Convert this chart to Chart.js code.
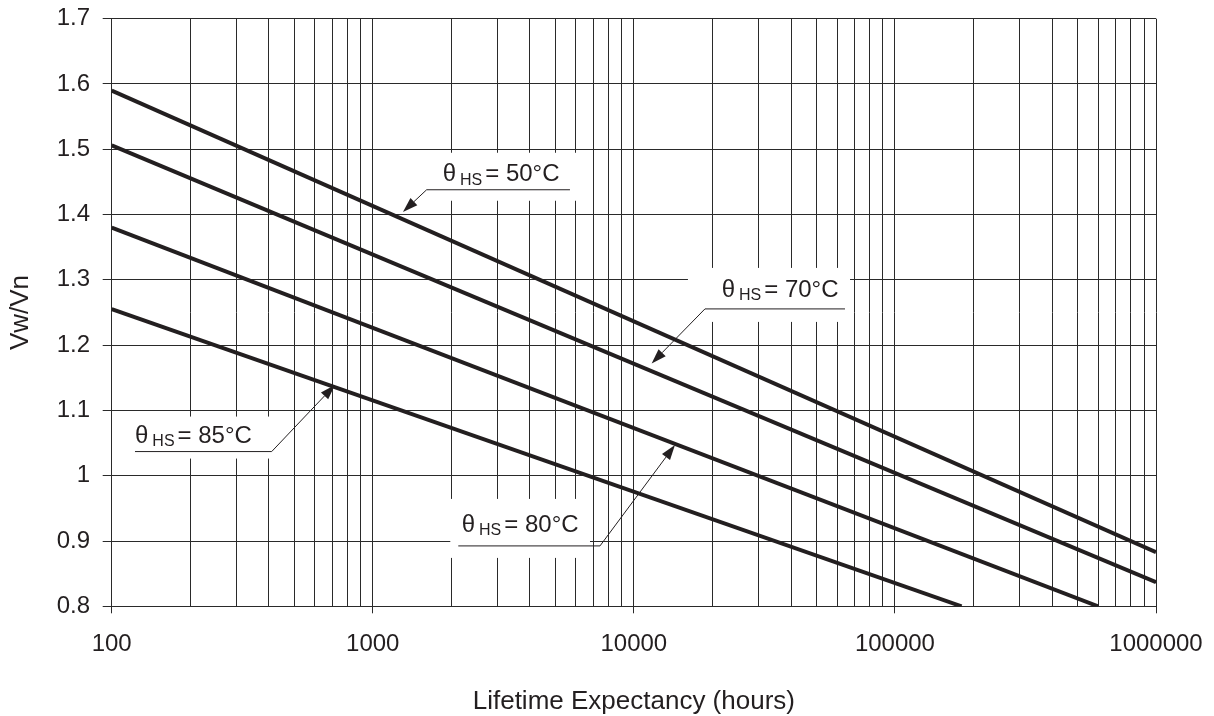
<!DOCTYPE html>
<html>
<head>
<meta charset="utf-8">
<script src="https://cdn.jsdelivr.net/npm/chart.js@4.4.1/dist/chart.umd.min.js"></script>
<style>
  html, body { margin: 0; padding: 0; background: #fff; }
  #wrap { width: 1214px; height: 716px; }
</style>
</head>
<body>
<div id="wrap"><canvas id="lifeChart" width="1214" height="716"></canvas></div>
<script>
// Axis ticks
const xTickLabels = ['100', '1000', '10000', '100000', '1000000'];
const xMinorSteps = [1, 2, 3, 4, 5, 6, 7, 8, 9];
const yTickValues = [0.8, 0.9, 1.0, 1.1, 1.2, 1.3, 1.4, 1.5, 1.6, 1.7];
const yTickLabels = ['0.8', '0.9', '1', '1.1', '1.2', '1.3', '1.4', '1.5', '1.6', '1.7'];

// Series (hours, Vw/Vn)
const hours50 = [100, 1000000];
const vw50 = [1.59, 0.883];
const hours70 = [100, 1000000];
const vw70 = [1.506, 0.837];
const hours80 = [100, 600000];
const vw80 = [1.38, 0.8];
const hours85 = [100, 180000];
const vw85 = [1.255, 0.8];

const INK = '#231f20';
const GRID = '#2a2a2a';
const FONT = "'Liberation Sans', Arial, Helvetica, sans-serif";

const majorValues = xTickLabels.map(Number);
const xGridValues = [];
majorValues.slice(0, -1).forEach(d => xMinorSteps.forEach(m => xGridValues.push(d * m)));
xGridValues.push(majorValues[majorValues.length - 1]);

function toPoints(xs, ys) {
    return xs.map((v, i) => ({ x: v, y: ys[i] }));
}

function lineSet(label, xs, ys) {
    return {
        label: label,
        data: toPoints(xs, ys),
        borderColor: INK,
        borderWidth: 4,
        borderCapStyle: 'butt',
        pointRadius: 0,
        tension: 0,
        fill: false
    };
}

// Callout labels: arrow tip and underline in data units, text/box offsets in px
const callouts = [
    { temp: '50°C', tip: [1305, 1.404], from: 1608, to: 5692, at: 1.438, elbow: 'left',  dx: 16,  dy: -8.3,  box: [-7, -37, 15, 11] },
    { temp: '70°C', tip: [11700, 1.172], from: 18720, to: 64380, at: 1.2555, elbow: 'left', dx: 16.7, dy: -12.3, box: [-17, -41, 5, 13] },
    { temp: '85°C', tip: [716, 1.139], from: 122.8, to: 410, at: 1.037, elbow: 'right', dx: 0,   dy: -9,    box: [-8, -35, 4, 7] },
    { temp: '80°C', tip: [14370, 1.047], from: 2126, to: 7418, at: 0.8925, elbow: 'right', dx: 3.4, dy: -14.3, box: [-8, -47, -10, 12] }
];

const calloutPlugin = {
    id: 'callouts',
    beforeDatasetsDraw(chart) {
        const { ctx, scales: { x, y } } = chart;
        ctx.save();
        ctx.fillStyle = '#ffffff';
        callouts.forEach(c => {
            const x0 = x.getPixelForValue(c.from);
            const x1 = x.getPixelForValue(c.to);
            const yl = y.getPixelForValue(c.at);
            ctx.fillRect(x0 + c.box[0], yl + c.box[1], (x1 + c.box[2]) - (x0 + c.box[0]), c.box[3] - c.box[1]);
        });
        ctx.restore();
    },
    afterDatasetsDraw(chart) {
        const { ctx, scales: { x, y } } = chart;
        ctx.save();
        ctx.strokeStyle = INK;
        ctx.fillStyle = INK;
        ctx.lineWidth = 1;
        callouts.forEach(c => {
            const x0 = x.getPixelForValue(c.from);
            const x1 = x.getPixelForValue(c.to);
            const yl = y.getPixelForValue(c.at);
            // underline
            ctx.beginPath();
            ctx.moveTo(x0, yl);
            ctx.lineTo(x1, yl);
            ctx.stroke();
            // arrow
            const ex = c.elbow === 'left' ? x0 : x1;
            const tx = x.getPixelForValue(c.tip[0]);
            const ty = y.getPixelForValue(c.tip[1]);
            const ang = Math.atan2(ty - yl, tx - ex);
            const len = 15, half = 5;
            const bx = tx - len * Math.cos(ang), by = ty - len * Math.sin(ang);
            ctx.beginPath();
            ctx.moveTo(ex, yl);
            ctx.lineTo(bx, by);
            ctx.stroke();
            ctx.beginPath();
            ctx.moveTo(tx, ty);
            ctx.lineTo(bx + half * Math.sin(ang), by - half * Math.cos(ang));
            ctx.lineTo(bx - half * Math.sin(ang), by + half * Math.cos(ang));
            ctx.closePath();
            ctx.fill();
            // text: θ HS = xx°C
            let tx0 = x0 + c.dx;
            const base = yl + c.dy;
            ctx.textBaseline = 'alphabetic';
            ctx.textAlign = 'left';
            ctx.font = '24px ' + FONT;
            ctx.fillText('θ', tx0, base);
            tx0 += ctx.measureText('θ').width + 4;
            ctx.font = '16px ' + FONT;
            ctx.fillText('HS', tx0, base + 3.5);
            tx0 += ctx.measureText('HS').width + 3;
            ctx.font = '24px ' + FONT;
            ctx.fillText('= ' + c.temp, tx0, base);
        });
        ctx.restore();
    }
};

function initLifeChart() {
    const ctx = document.getElementById('lifeChart').getContext('2d');
    const lifeChart = new Chart(ctx, {
        type: 'line',
        data: {
            datasets: [
                lineSet('θHS = 50°C', hours50, vw50),
                lineSet('θHS = 70°C', hours70, vw70),
                lineSet('θHS = 80°C', hours80, vw80),
                lineSet('θHS = 85°C', hours85, vw85)
            ]
        },
        options: {
            responsive: false,
            animation: false,
            layout: { padding: { left: 0, top: 18.7, right: 58, bottom: 0 } },
            plugins: {
                legend: { display: false },
                tooltip: { enabled: false }
            },
            scales: {
                x: {
                    type: 'logarithmic',
                    min: 100,
                    max: 1000000,
                    afterBuildTicks: scale => {
                        scale.ticks = xGridValues.map(v => ({ value: v }));
                    },
                    afterFit: scale => {
                        scale.height = 109.7;
                        scale.paddingLeft = 0;
                        scale.paddingRight = 0;
                    },
                    grid: {
                        color: GRID,
                        lineWidth: 1,
                        tickLength: 7,
                        tickColor: c => majorValues.includes(c.tick && c.tick.value) ? GRID : 'rgba(0,0,0,0)'
                    },
                    border: { color: GRID, width: 1 },
                    ticks: {
                        autoSkip: false,
                        maxRotation: 0,
                        minRotation: 0,
                        padding: 16.8,
                        color: INK,
                        font: { family: FONT, size: 24 },
                        callback: value => {
                            const i = majorValues.indexOf(value);
                            return i >= 0 ? xTickLabels[i] : '';
                        }
                    },
                    title: {
                        display: true,
                        text: 'Lifetime Expectancy (hours)',
                        color: INK,
                        font: { family: FONT, size: 26, lineHeight: 1.0 },
                        padding: { top: 0, bottom: 1 }
                    }
                },
                y: {
                    type: 'linear',
                    min: 0.8,
                    max: 1.7,
                    afterBuildTicks: scale => {
                        scale.ticks = yTickValues.map(v => ({ value: v }));
                    },
                    afterFit: scale => {
                        scale.width = 111.7;
                        scale.paddingTop = 0;
                        scale.paddingBottom = 0;
                    },
                    grid: {
                        color: GRID,
                        lineWidth: 1,
                        tickLength: 9,
                        tickColor: GRID
                    },
                    border: { color: GRID, width: 1 },
                    ticks: {
                        padding: 12.7,
                        color: INK,
                        font: { family: FONT, size: 24 },
                        callback: (value, index) => yTickLabels[index]
                    },
                    title: {
                        display: true,
                        text: 'Vw/Vn',
                        color: INK,
                        font: { family: FONT, size: 26, lineHeight: 1.2 },
                        padding: { top: 5.4, bottom: 0 }
                    }
                }
            }
        },
        plugins: [calloutPlugin]
    });
}

window.onload = function() {
    initLifeChart();
};
</script>
</body>
</html>
